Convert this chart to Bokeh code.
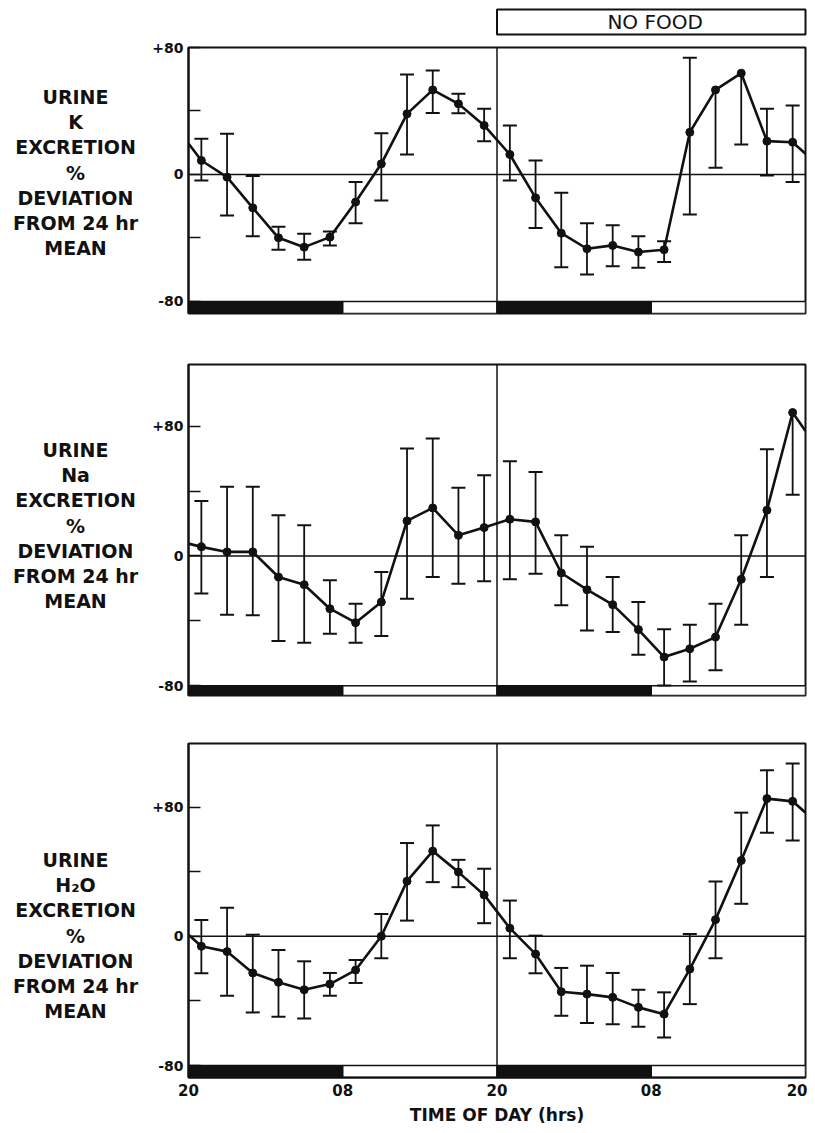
from bokeh.plotting import figure
from bokeh.layouts import column, row
from bokeh.models import Range1d, FixedTicker, Span, Label
from bokeh.embed import file_html
from bokeh.resources import INLINE

# ---------------- data ----------------
hours = list(range(1, 48, 2))          # mid-points of 2-h collections, hours after 20:00
tick_hours = [0, 12, 24, 36, 48]
tick_labels = ["20", "08", "20", "08", "20"]
dark_start = [0, 24]
dark_end = [12, 36]
light_start = [12, 36]
light_end = [24, 48]
no_food_start = 24
no_food_end = 48

k_vals = [8.8, -1.7, -21, -39.9, -45.8, -39.5, -17.4, 6.7, 38.2, 53.3, 44.5, 30.9,
          12.6, -14.7, -37, -46.8, -44.7, -48.9, -47.4, 26.6, 53.3, 63.8, 21, 20.3]
k_hi = [22.5, 25.6, -1, -33, -37.4, -36, -4.8, 26, 63, 65.5, 50.8, 41.4,
        30.9, 8.8, -11.5, -30.7, -32, -38.9, -42, 73.5, None, None, 41.4, 43.5]
k_lo = [-3.8, -25.8, -39, -47.4, -53.7, -44.7, -30.7, -16.4, 12.6, 38.8, 38.6, 21,
        -3.8, -33.8, -58.4, -63, -57.8, -58.8, -55.2, -25.2, 4.2, 18.9, -0.6, -4.8]
k_edges = [19.5, 13.0]

na_vals = [5.6, 2.5, 2.5, -13, -17.7, -32.5, -41.1, -28.4, 21.6, 29.6, 12.7, 17.5,
           22.6, 21, -10.5, -20.8, -30, -45.4, -62.3, -57.2, -50, -14.4, 28.2, 88.4]
na_hi = [33.9, 42.6, 42.6, 25.1, 18.9, -15, -29.4, -9.9, 66.2, 72.4, 42, 49.8,
         58.4, 51.8, 12.7, 5.6, -13, -28.4, -45.2, -42.4, -29.4, 12.7, 65.8, None]
na_lo = [-23.2, -36.2, -36.6, -52.4, -53.5, -47.9, -53.5, -49.4, -26.3, -13, -17.1, -15.6,
         -14.4, -10.9, -30.4, -45.9, -46.9, -60.9, -79.8, -77.3, -70.5, -42.4, -13, 37.8]
na_edges = [7.6, 77.0]

h2o_vals = [-6.2, -9.5, -22.7, -28.5, -33.1, -29.6, -20.9, 0, 34.1, 52.7, 39.7, 25.6,
            5, -11, -34.3, -35.8, -37.8, -44, -48.2, -20.3, 10.3, 46.9, 85.2, 83.5]
h2o_hi = [10.1, 17.6, 1, -8.5, -15.5, -22.7, -14.7, 13.8, 57.7, 68.6, 47.3, 41.8,
          22.1, 0.4, -19.6, -18.2, -22.7, -33.1, -34.7, 1.4, 33.9, 76.5, 102.7, 106.9]
h2o_lo = [-22.9, -36.8, -47.1, -49.8, -50.9, -36.8, -28.9, -13.6, 9.7, 33.5, 30.4, 8.1,
          -13.6, -22.9, -49.2, -53.7, -54.4, -56, -62.6, -42, -13.6, 20.1, 64.1, 59.3]
h2o_edges = [1.0, 76.5]

k_label = ["URINE", "K", "EXCRETION", "%", "DEVIATION", "FROM 24 hr", "MEAN"]
na_label = ["URINE", "Na", "EXCRETION", "%", "DEVIATION", "FROM 24 hr", "MEAN"]
h2o_label = ["URINE", "H\u2082O", "EXCRETION", "%", "DEVIATION", "FROM 24 hr", "MEAN"]

y_ticks = [-80, 0, 80]
y_minor = [-40, 40]
y_tick_labels = {-80: "-80", 0: "0", 80: "+80"}

no_food_text = "NO FOOD"
x_title = "TIME OF DAY (hrs)"

# ---------------- layout ----------------
W = 807          # total width
LW = 140         # caption column width
LB = 48          # left border of plot (frame starts at LW + LB = 188)
RB = 2
PW = W - LW      # plot width
FRAME_W = PW - LB - RB
FONT = "DejaVu Sans"
INK = "#111111"
x_range = Range1d(0, 48)


def style_plain(f):
    f.grid.visible = False
    f.outline_line_color = None
    f.background_fill_color = "white"
    f.border_fill_color = "white"


def make_caption(labels, y_rng, top_b, frame_h, bot_b, center_px):
    # frames in a row are aligned, so the caption shares the panel's frame box
    c = figure(width=LW, height=top_b + frame_h + bot_b, x_range=Range1d(0, LW),
               y_range=y_rng, output_backend="svg",
               toolbar_location=None, x_axis_location=None, y_axis_location=None,
               min_border_left=0, min_border_right=0, min_border_top=top_b,
               min_border_bottom=bot_b)
    style_plain(c)
    scale = (y_rng.end - y_rng.start) / frame_h
    for i, txt in enumerate(labels):
        py = center_px + (i - 3) * 25.3          # px below frame top
        c.add_layout(Label(x=75, y=y_rng.end - py * scale, text=txt,
                           text_align="center", text_baseline="middle",
                           text_font=FONT, text_font_style="bold",
                           text_font_size="19px", text_color=INK))
    return c


def make_panel(vals, hi, lo, edges, labels, y0, y1, top_b, frame_h, bot_b,
               label_center, show_x):
    height = top_b + frame_h + bot_b
    y_rng = Range1d(y0, y1)
    p = figure(width=PW, height=height,
               x_range=x_range, y_range=y_rng,
               output_backend="svg", toolbar_location=None,
               x_axis_location="below" if show_x else None,
               min_border_left=LB, min_border_right=RB,
               min_border_top=top_b, min_border_bottom=bot_b)
    p.grid.visible = False
    p.outline_line_color = INK
    p.outline_line_width = 2
    p.background_fill_color = "white"
    p.border_fill_color = "white"

    ya = p.yaxis[0]
    ya.ticker = FixedTicker(ticks=y_ticks, minor_ticks=y_minor)
    ya.major_label_overrides = y_tick_labels
    ya.major_tick_in = 12
    ya.major_tick_out = 0
    ya.minor_tick_in = 12
    ya.minor_tick_out = 0
    ya.major_tick_line_width = 1.5
    ya.minor_tick_line_width = 1.5
    ya.major_tick_line_color = INK
    ya.minor_tick_line_color = INK
    ya.axis_line_color = INK
    ya.axis_line_width = 2
    ya.major_label_standoff = 5
    ya.major_label_text_font = FONT
    ya.major_label_text_font_style = "bold"
    ya.major_label_text_font_size = "14px"
    ya.major_label_text_color = INK

    if show_x:
        xa = p.xaxis[0]
        xa.ticker = FixedTicker(ticks=tick_hours)
        xa.major_label_overrides = dict(zip(tick_hours, tick_labels))
        xa.major_tick_in = 0
        xa.major_tick_out = 0
        xa.axis_line_color = INK
        xa.axis_line_width = 2
        xa.major_label_standoff = 6
        xa.major_label_text_font = FONT
        xa.major_label_text_font_style = "bold"
        xa.major_label_text_font_size = "15px"
        xa.major_label_text_color = INK
        xa.axis_label = x_title
        xa.axis_label_standoff = 6
        xa.axis_label_text_font = FONT
        xa.axis_label_text_font_style = "bold"
        xa.axis_label_text_font_size = "17px"
        xa.axis_label_text_color = INK

    # light / dark bar below -80
    p.quad(left=dark_start, right=dark_end, bottom=y0, top=-80,
           fill_color=INK, line_color=INK, line_width=1.5)
    p.quad(left=light_start, right=light_end, bottom=y0, top=-80,
           fill_color="white", line_color=INK, line_width=1.5)

    p.add_layout(Span(location=0, dimension="width", line_color=INK, line_width=1.5))
    p.add_layout(Span(location=24, dimension="height", line_color=INK, line_width=1.5))

    # error bars
    tops = [h if h is not None else v for h, v in zip(hi, vals)]
    p.segment(x0=hours, y0=lo, x1=hours, y1=tops, line_color=INK, line_width=1.8)
    p.scatter(x=hours, y=lo, marker="dash", size=14, line_color=INK, line_width=2)
    hx = [x for x, h in zip(hours, hi) if h is not None]
    hy = [h for h in hi if h is not None]
    p.scatter(x=hx, y=hy, marker="dash", size=14, line_color=INK, line_width=2)

    # data line
    p.line(x=[0] + hours + [48], y=[edges[0]] + vals + [edges[1]],
           line_color=INK, line_width=2.6)
    p.scatter(x=hours, y=vals, marker="circle", size=8,
              fill_color=INK, line_color=INK)

    cap = make_caption(labels, Range1d(y0, y1), top_b, frame_h, bot_b, label_center)
    return row(cap, p, spacing=0)


# top strip with NO FOOD box
TOP_H = 37
top = figure(width=W, height=TOP_H, x_range=Range1d(0, 48 * (W - LW - LB) / FRAME_W),
             y_range=Range1d(0, TOP_H), output_backend="svg", toolbar_location=None,
             x_axis_location=None, y_axis_location=None,
             min_border_left=LW + LB, min_border_right=0, min_border_top=0,
             min_border_bottom=0)
style_plain(top)
top.quad(left=[no_food_start], right=[no_food_end], bottom=[3], top=[28],
         fill_color="white", line_color=INK, line_width=2)
top.add_layout(Label(x=(no_food_start + no_food_end) / 2 + 0.3, y=15.5, text=no_food_text,
                     text_align="center", text_baseline="middle",
                     text_font=FONT, text_font_size="20px", text_color=INK))

p1 = make_panel(k_vals, k_hi, k_lo, k_edges, k_label, -87.6, 80, 10, 266, 25, 125, False)
p2 = make_panel(na_vals, na_hi, na_lo, na_edges, na_label, -86, 118, 26, 331, 24, 161, False)
p3 = make_panel(h2o_vals, h2o_hi, h2o_lo, h2o_edges, h2o_label, -87.4, 119.3, 24, 334, 50, 192, True)

layout = column(top, p1, p2, p3, spacing=0)

with open("out.html", "w") as f:
    f.write(file_html(layout, INLINE))
